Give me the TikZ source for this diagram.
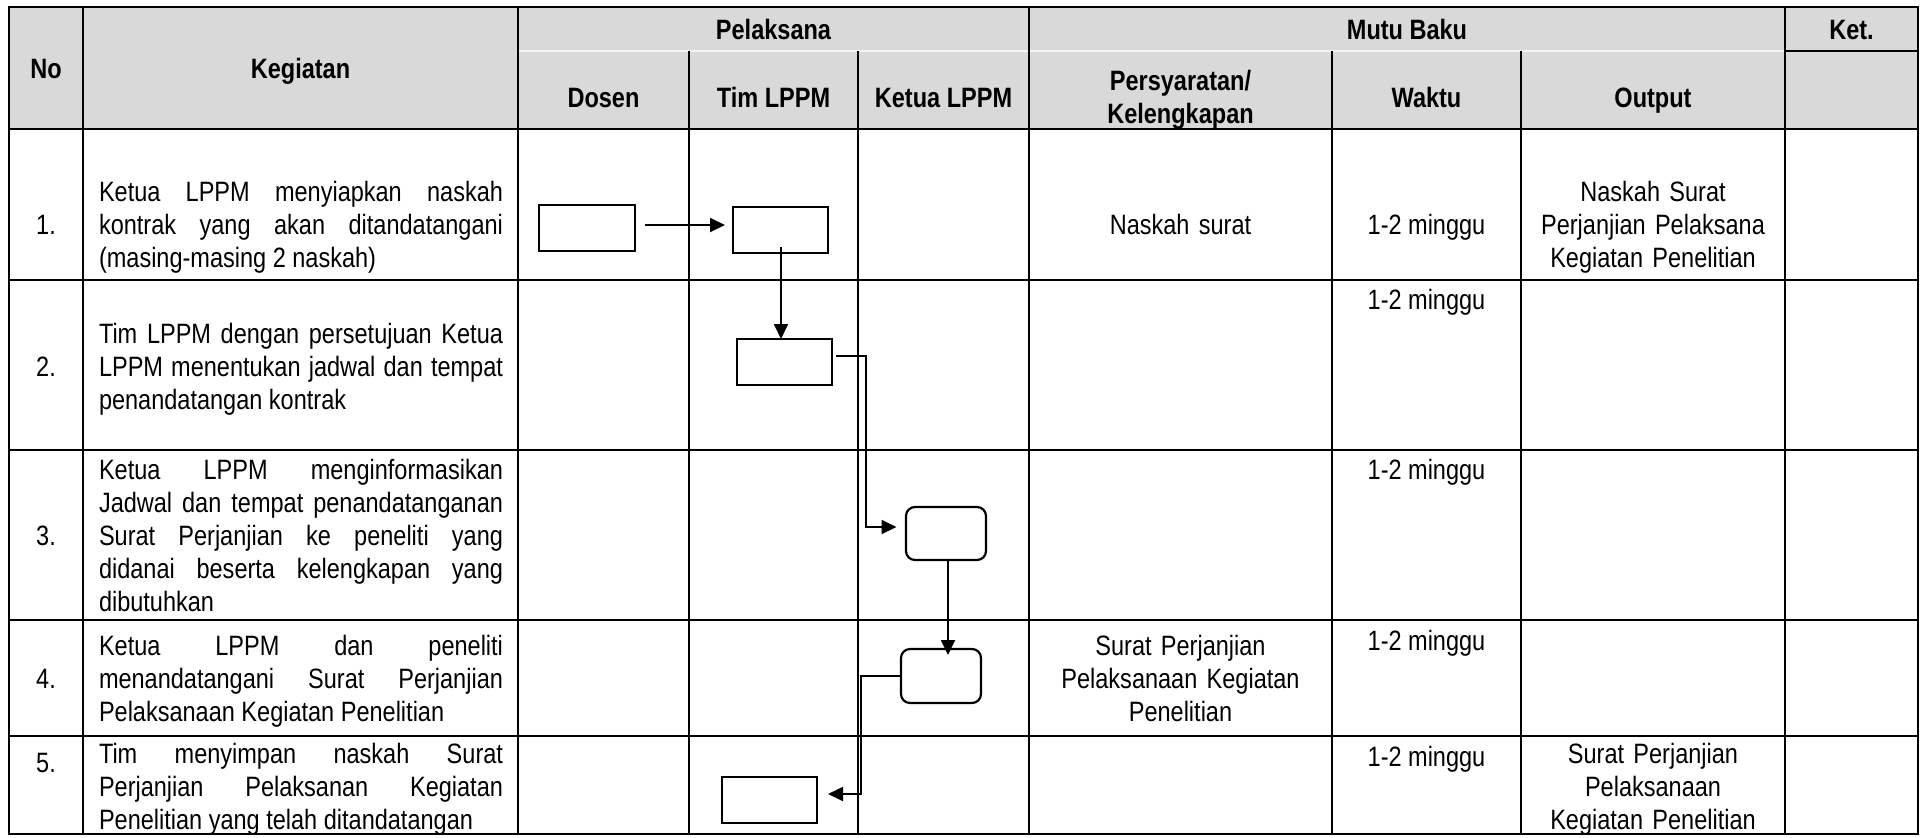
\documentclass[tikz,border=0pt]{standalone}
\usepackage{fontspec}
\setmainfont{Liberation Sans}[FakeStretch=0.84]
\usetikzlibrary{arrows.meta,calc}
\definecolor{hdr}{RGB}{217,217,217}
\newcommand{\lstr}{\rule[-3.25pt]{0pt}{16.5pt}}
\tolerance=10000 \hbadness=10000 \hyphenpenalty=10000 \exhyphenpenalty=10000 \parindent=0pt
\begin{document}
\begin{tikzpicture}[x=0.5pt,y=-0.5pt,
  every node/.style={inner sep=0pt, outer sep=0pt, font=\fontsize{14pt}{16.5pt}\selectfont},
  hd/.style={font=\fontsize{14pt}{16.5pt}\selectfont\bfseries, align=center},
  body/.style={align=center},
  keg/.style={text width=202pt, align=justify},
  procbox/.style={draw, line width=1.1pt, minimum width=47.5pt, minimum height=23pt},
  roundbox/.style={draw, line width=1.1pt, rounded corners=4.5pt, minimum width=40pt, minimum height=26.5pt},
  conn/.style={line width=0.9pt, -{Triangle[length=7.5pt,width=7pt]}},
  tline/.style={line width=0.75pt},
]
\useasboundingbox (0,0) rectangle (1923,837);
% header background
\fill[hdr] (9,7) rectangle (1918,129);
\draw[line width=0.75pt, white!70!hdr] (518,51) -- (1785,51);
\draw[tline] (1785,51) -- (1918,51);
% grid
\foreach \x in {83,518,1029,1785} \draw[tline] (\x,7) -- (\x,834);
\foreach \x in {689,858,1332,1521} \draw[tline] (\x,51) -- (\x,834);
\foreach \y in {129,280,450,620,736} \draw[tline] (9,\y) -- (1918,\y);
\draw[line width=1.1pt] (9,7) rectangle (1918,834);

% headers
\node[hd] (hNo) at (46,68) {\lstr No};
\node[hd] (hKeg) at (300.5,68) {\lstr Kegiatan};
\node[hd] (hPel) at (773.5,29) {\lstr Pelaksana};
\node[hd] (hMutu) at (1407,29) {\lstr Mutu Baku};
\node[hd] (hKet) at (1851.5,29) {\lstr Ket.};
\node[hd] (hDos) at (603.5,97) {\lstr Dosen};
\node[hd] (hTim) at (773.5,97) {\lstr Tim LPPM};
\node[hd] (hKetua) at (943.5,97) {\lstr Ketua LPPM};
\node[hd, text width=140pt] (hPers) at (1180.5,97) {\lstr Persyaratan/\\Kelengkapan\lstr};
\node[hd] (hWaktu) at (1426.5,97) {\lstr Waktu};
\node[hd] (hOut) at (1653,97) {\lstr Output};

% numbers
\node (n1) at (46,224) {\lstr 1.};
\node (n2) at (46,366) {\lstr 2.};
\node (n3) at (46,535) {\lstr 3.};
\node (n4) at (46,678) {\lstr 4.};
\node (n5) at (46,762) {\lstr 5.};

% kegiatan
\node[keg] (k1) at (301,224) {\lstr Ketua LPPM menyiapkan naskah\linebreak kontrak yang akan ditandatangani\linebreak (masing-masing 2 naskah)\lstr};
\node[keg] (k2) at (301,366) {\lstr Tim LPPM dengan persetujuan Ketua\linebreak LPPM menentukan jadwal dan tempat\linebreak penandatangan kontrak\lstr};
\node[keg] (k3) at (301,535) {\lstr Ketua LPPM menginformasikan\linebreak Jadwal dan tempat penandatanganan\linebreak Surat Perjanjian ke peneliti yang\linebreak didanai beserta kelengkapan yang\linebreak dibutuhkan\lstr};
\node[keg] (k4) at (301,678) {\lstr Ketua LPPM dan peneliti\linebreak menandatangani Surat Perjanjian\linebreak Pelaksanaan Kegiatan Penelitian\lstr};
\node[keg] (k5) at (301,786) {\lstr Tim menyimpan naskah Surat\linebreak Perjanjian Pelaksanan Kegiatan\linebreak Penelitian yang telah ditandatangan\lstr};

% mutu baku
\node[body, text width=140pt] (p1) at (1180.5,224) {\lstr Naskah surat};
\node[body, text width=140pt] (p4) at (1180.5,678) {\lstr Surat Perjanjian\\Pelaksanaan Kegiatan\\Penelitian\lstr};
\node (w1) at (1426.5,224) {\lstr 1-2 minggu};
\node (w2) at (1426.5,299) {\lstr 1-2 minggu};
\node (w3) at (1426.5,469) {\lstr 1-2 minggu};
\node (w4) at (1426.5,640) {\lstr 1-2 minggu};
\node (w5) at (1426.5,756) {\lstr 1-2 minggu};
\node[body, text width=125pt] (o1) at (1653,224) {\lstr Naskah Surat\\Perjanjian Pelaksana\\Kegiatan Penelitian\lstr};
\node[body, text width=125pt] (o5) at (1653,786) {\lstr Surat Perjanjian\\Pelaksanaan\\Kegiatan Penelitian\lstr};

% flow boxes
\node[procbox, minimum width=48pt] (b1) at (587,228) {};
\node[procbox] (b2) at (780.5,230) {};
\node[procbox] (b3) at (784.5,362) {};
\node[roundbox] (b4) at (946,533.5) {};
\node[roundbox, minimum height=27pt] (b5) at (941,676) {};
\node[procbox] (b6) at (769.5,800) {};

% connectors
\draw[conn] ($(b1.east)+(10,-3)$) -- ($(b2.west)+(-8,-5)$);
\draw[conn] ($(b2.south)+(0.5,-6)$) -- ($(b3.north)+(-3.5,0)$);
\draw[conn] ($(b3.east)+(4,-6)$) -- ++(30,0) |- ($(b4.west)+(-9.5,-6.5)$);
\draw[conn] ($(b4.south)+(2,0)$) -- ($(b5.north)+(7,6)$);
\draw[conn] (b5.west) -- ++(-40,0) |- ($(b6.east)+(11,-6)$);
\end{tikzpicture}
\end{document}
